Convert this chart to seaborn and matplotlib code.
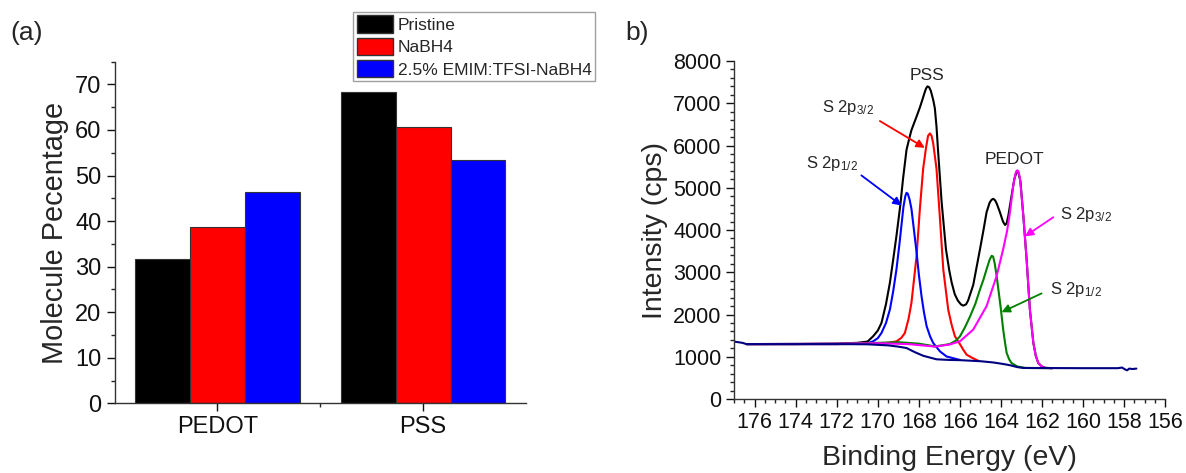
import pandas as pd
import numpy as np
import matplotlib
matplotlib.use('Agg')
import matplotlib.pyplot as plt
from matplotlib.patches import Patch
from matplotlib.ticker import MultipleLocator, FixedLocator
import seaborn as sns

sns.set_style('ticks')
plt.rcParams['font.family'] = ['Liberation Sans', 'DejaVu Sans']
plt.rcParams['mathtext.fontset'] = 'custom'
plt.rcParams['mathtext.rm'] = 'Liberation Sans'
plt.rcParams['mathtext.it'] = 'Liberation Sans'

# (a) molecule percentage
groups = ['PEDOT', 'PSS']
treatments = ['Pristine', 'NaBH4', '2.5% EMIM:TFSI-NaBH4']
pristine = [31.6, 68.3]
nabh4 = [38.7, 60.6]
emim = [46.4, 53.5]
bar_colors = ['#000000', '#ff0000', '#0000ff']

# (b) XPS S 2p spectrum
env_be = [176.4, 174, 172, 171, 170.5, 170.23, 170.0, 169.82, 169.6, 169.41, 169.25, 169.09, 168.9,
          168.77, 168.6, 168.45, 168.36, 168.1, 167.95, 167.85, 167.72, 167.65, 167.58, 167.5, 167.42,
          167.3, 167.22, 167.14, 167.06, 166.89, 166.68, 166.52, 166.4, 166.25, 166.1, 165.95, 165.84,
          165.7, 165.6, 165.35, 165.02, 164.85, 164.7, 164.55, 164.45, 164.37, 164.28, 164.2, 164.05,
          163.9, 163.8, 163.72, 163.64, 163.48, 163.35, 163.25, 163.2, 163.15, 163.05, 162.91, 162.75,
          162.59, 162.42, 162.3, 162.18, 162.0, 161.85, 161.5]
env_int = [1300, 1300, 1310, 1330, 1360, 1484, 1620, 1802, 2250, 2754, 3300, 3865, 4600,
           5214, 5900, 6200, 6365, 6700, 6900, 7050, 7250, 7350, 7400, 7380, 7300,
           7080, 6880, 6450, 5850, 4660, 3548, 3050, 2754, 2480, 2330, 2240, 2210,
           2240, 2330, 2700, 3548, 4000, 4421, 4650, 4720, 4738, 4700, 4620, 4421,
           4200, 4119, 4160, 4340, 4817, 5200, 5360, 5400, 5360, 5150, 4340, 3310,
           2119, 1326, 1020, 850, 770, 740, 730]

red_be = [176.4, 172, 170, 169.5, 169.09, 168.85, 168.68, 168.5, 168.36, 168.11, 167.95, 167.79,
          167.65, 167.55, 167.46, 167.38, 167.3, 167.14, 166.97, 166.81, 166.57, 166.4, 166.24,
          166.0, 165.84, 165.67, 165.4, 165.1]
red_int = [1300, 1300, 1310, 1330, 1365, 1450, 1564, 1900, 2278, 3388, 4500, 5452,
           5950, 6230, 6286, 6230, 6050, 5452, 4262, 3071, 2119, 1750, 1483,
           1300, 1170, 1048, 975, 905]

blue_be = [176.4, 172, 170.5, 170.23, 170.0, 169.82, 169.6, 169.41, 169.25, 169.09, 168.95, 168.85,
           168.75, 168.66, 168.6, 168.54, 168.45, 168.36, 168.25, 168.11, 168.0, 167.87, 167.75,
           167.62, 167.45, 167.3, 166.97, 166.65, 166.2, 166.0]
blue_int = [1300, 1300, 1320, 1365, 1440, 1564, 1800, 2119, 2550, 3071, 3650, 4100,
            4550, 4800, 4881, 4860, 4720, 4500, 4050, 3469, 2950, 2436, 2050,
            1721, 1480, 1326, 1127, 1007, 950, 925]

green_be = [176.4, 172, 170, 169, 168, 167.2, 166.5, 166.2, 166.0, 165.75, 165.5, 165.25, 165.02,
            164.85, 164.7, 164.55, 164.45, 164.38, 164.3, 164.21, 164.1, 164.02, 163.89, 163.8,
            163.72, 163.6, 163.48, 163.2, 162.8, 161.5]
green_int = [1300, 1310, 1330, 1345, 1310, 1245, 1300, 1380, 1480, 1700, 1960, 2250, 2595,
             2830, 3071, 3300, 3390, 3370, 3200, 2912, 2500, 2198, 1643, 1330,
             1088, 940, 850, 770, 735, 730]

mag_be = [176.4, 172, 170, 168.5, 167.2, 166.5, 166.0, 165.35, 164.7, 164.21, 163.89, 163.7, 163.56,
          163.4, 163.3, 163.25, 163.2, 163.15, 163.08, 163.0, 162.91, 162.75, 162.59, 162.42,
          162.3, 162.18, 162.0, 161.85, 161.5]
mag_int = [1300, 1310, 1320, 1300, 1240, 1290, 1365, 1643, 2198, 2912, 3548, 3980, 4421,
           5055, 5320, 5390, 5412, 5390, 5250, 4850, 4340, 3310, 2119, 1326,
           1020, 850, 760, 735, 730]

base_be = [177, 176.6, 176.4, 172, 170.5, 169.5, 169.0, 168.6, 168.2, 167.79, 167.14, 166.5, 166.0,
           165.0, 164.37, 163.9, 163.56, 163.2, 162.91, 160, 158.3, 158.1, 157.95, 157.85, 157.75,
           157.6, 157.4]
base_int = [1360, 1330, 1300, 1300, 1295, 1270, 1240, 1207, 1110, 1024, 940, 925, 920,
            895, 865, 830, 800, 755, 735, 730, 730, 745, 700, 680, 720,
            710, 720]

df = pd.DataFrame({
    'group': groups * 3,
    'treatment': [t for t in treatments for _ in groups],
    'value': pristine + nabh4 + emim,
})

fig = plt.figure(figsize=(11.86, 4.73), dpi=100)
ax1 = fig.add_axes([0.0966, 0.1474, 0.3469, 0.7222])
ax2 = fig.add_axes([0.619, 0.1564, 0.3634, 0.7146])

# left panel: bars
sns.barplot(data=df, x='group', y='value', hue='treatment', hue_order=treatments,
            palette=bar_colors, saturation=1, edgecolor='#333333', linewidth=0.8,
            width=0.8, legend=False, ax=ax1)
ax1.set_xlim(-0.5, 1.5)
ax1.set_ylim(0, 75)
ax1.yaxis.set_major_locator(MultipleLocator(10))
ax1.yaxis.set_minor_locator(MultipleLocator(5))
ax1.xaxis.set_minor_locator(FixedLocator([0.5]))
ax1.tick_params(which='major', direction='out', length=6, width=1, labelsize=17, colors='#111111')
ax1.tick_params(which='minor', direction='out', length=3, width=1)
ax1.set_xlabel('')
ax1.set_ylabel('Molecule Pecentage', fontsize=20.8, labelpad=4)
for s in ['top', 'right']:
    ax1.spines[s].set_visible(False)
for s in ['left', 'bottom']:
    ax1.spines[s].set_linewidth(1)
    ax1.spines[s].set_color('#333333')

handles = [Patch(facecolor=c, edgecolor='#333333', label=t) for c, t in zip(bar_colors, treatments)]
leg = fig.legend(handles=handles, loc='upper right', bbox_to_anchor=(0.5017, 0.9746),
                 bbox_transform=fig.transFigure, fontsize=12.5, frameon=True, fancybox=False,
                 edgecolor='#888888', handlelength=2.1, handleheight=1.15, labelspacing=0.28,
                 handletextpad=0.25, borderpad=0.2, borderaxespad=0)
leg.get_frame().set_linewidth(1)
fig.text(0.009, 0.955, '(a)', fontsize=19, va='top')

# right panel: XPS spectrum
curves = [
    (env_be, env_int, '#000000'),
    (red_be, red_int, '#ff0000'),
    (blue_be, blue_int, '#0000ff'),
    (green_be, green_int, '#008000'),
    (mag_be, mag_int, '#ff00ff'),
    (base_be, base_int, '#000080'),
]
for be, inten, c in curves:
    sns.lineplot(x=be, y=inten, color=c, lw=1.5, estimator=None, sort=False, ax=ax2)

ax2.set_xlim(177, 156)
ax2.set_ylim(0, 8000)
ax2.xaxis.set_major_locator(FixedLocator(list(range(176, 155, -2))))
ax2.xaxis.set_minor_locator(MultipleLocator(0.5))
ax2.yaxis.set_major_locator(MultipleLocator(1000))
ax2.yaxis.set_minor_locator(MultipleLocator(200))
ax2.tick_params(which='major', direction='out', length=6, width=1, labelsize=15.5, colors='#111111', pad=3)
ax2.tick_params(which='minor', direction='out', length=3, width=1)
ax2.set_xlabel('Binding Energy (eV)', fontsize=20.5, labelpad=9)
ax2.set_ylabel('Intensity (cps)', fontsize=20.5, labelpad=4)
for s in ['top', 'right']:
    ax2.spines[s].set_visible(False)
for s in ['left', 'bottom']:
    ax2.spines[s].set_linewidth(1)
    ax2.spines[s].set_color('#333333')

ax2.text(167.59, 7555, 'PSS', fontsize=12.5, ha='center', va='baseline')
ax2.text(163.32, 5571, 'PEDOT', fontsize=12.5, ha='center', va='baseline')
ax2.text(172.73, 6800, 'S 2p$_{3/2}$', fontsize=12, ha='left', va='baseline')
ax2.text(173.48, 5470, 'S 2p$_{1/2}$', fontsize=12, ha='left', va='baseline')
ax2.text(161.12, 4262, 'S 2p$_{3/2}$', fontsize=12, ha='left', va='baseline')
ax2.text(161.61, 2476, 'S 2p$_{1/2}$', fontsize=12, ha='left', va='baseline')

arrows = [
    ((169.90, 6580), (167.71, 5945), '#ff0000'),
    ((170.80, 5293), (168.84, 4580), '#0000ff'),
    ((161.45, 4302), (162.83, 3850), '#ff00ff'),
    ((162.02, 2500), (163.97, 2055), '#008000'),
]
for tail, head, c in arrows:
    ax2.annotate('', xy=head, xytext=tail,
                 arrowprops=dict(arrowstyle='-|>', color=c, lw=1.3, mutation_scale=12,
                                 shrinkA=0, shrinkB=0))

fig.text(0.527, 0.955, 'b)', fontsize=19, va='top')

fig.savefig('out.png', dpi=100)
